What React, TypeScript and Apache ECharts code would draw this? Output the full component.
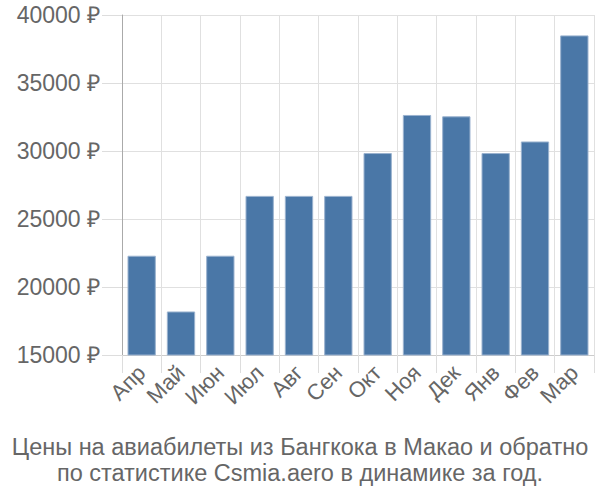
import React, { useEffect, useRef } from "react";
import * as echarts from "echarts";

const categories = ["Апр", "Май", "Июн", "Июл", "Авг", "Сен", "Окт", "Ноя", "Дек", "Янв", "Фев", "Мар"];
const prices = [22300, 18200, 22300, 26700, 26700, 26700, 29850, 32650, 32550, 29850, 30700, 38500];
const titleLines = [
  "Цены на авиабилеты из Бангкока в Макао и обратно",
  "по статистике Csmia.aero в динамике за год.",
];

const FONT = "'Liberation Sans', Arial, sans-serif";

export default function App() {
  const ref = useRef<HTMLDivElement>(null);
  useEffect(() => {
    if (!ref.current) return;
    const chart = echarts.init(ref.current, undefined, { renderer: "svg" });
    chart.setOption({
      animation: false,
      title: {
        text: titleLines.join("\n"),
        left: "center",
        top: 429,
        textStyle: { fontSize: 23.5, fontWeight: "normal", color: "#666", lineHeight: 26, fontFamily: FONT },
      },
      grid: { left: 122, right: 6, top: 15, bottom: 145 },
      xAxis: {
        type: "category",
        data: categories,
        axisLine: { show: true, lineStyle: { color: "#ccc" } },
        axisTick: { show: true, length: 18, lineStyle: { color: "#ddd" } },
        splitLine: { show: true, lineStyle: { color: "#e0e0e0" } },
        axisLabel: { rotate: 45, margin: 14, fontSize: 22, color: "#666", fontFamily: FONT, interval: 0 },
      },
      yAxis: {
        type: "value",
        min: 15000,
        max: 40000,
        interval: 5000,
        axisLine: { show: true, lineStyle: { color: "#aaa" } },
        axisTick: { show: true, length: 20, lineStyle: { color: "#ddd" } },
        splitLine: { show: true, lineStyle: { color: "#e0e0e0" } },
        axisLabel: { margin: 22, fontSize: 23, color: "#666", fontFamily: FONT, formatter: (v: number) => v + " ₽" },
      },
      series: [
        {
          type: "bar",
          data: prices,
          barCategoryGap: "28%",
          itemStyle: { color: "#4a77a7", borderColor: "#9ab2cf", borderWidth: 1 },
        },
      ],
    });
    return () => chart.dispose();
  }, []);
  return <div ref={ref} style={{ width: 600, height: 500, position: "absolute", left: 0, top: 0 }} />;
}
